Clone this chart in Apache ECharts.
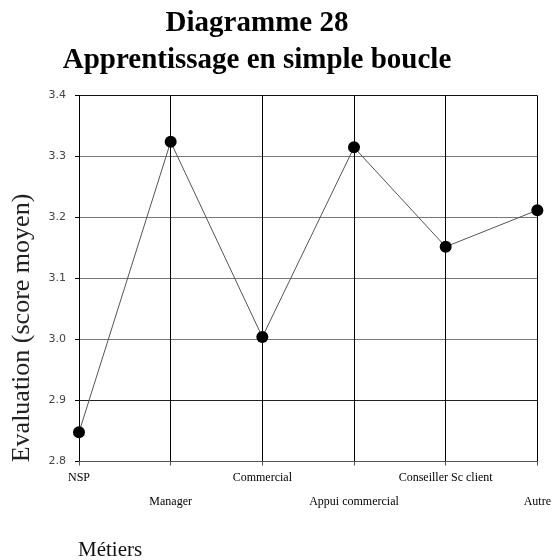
<!DOCTYPE html>
<html>
<head>
<meta charset="utf-8">
<script src="https://cdn.jsdelivr.net/npm/echarts@6/dist/echarts.min.js"></script>
<style>
  html, body { margin: 0; padding: 0; background: #fff; }
  #chart { width: 554px; height: 560px; }
</style>
</head>
<body>
<div id="chart"></div>
<script>
// Job categories on the horizontal axis
const metiers = ['NSP', 'Manager', 'Commercial', 'Appui commercial', 'Conseiller Sc client', 'Autre'];
// Average score per category
const scores = [2.848, 3.324, 3.004, 3.315, 3.152, 3.212];
// Value axis range
const yMin = 2.8;
const yMax = 3.4;
const yStep = 0.1;

const chart = echarts.init(document.getElementById('chart'), null, { renderer: 'canvas' });

chart.setOption({
  backgroundColor: '#ffffff',
  animation: false,
  title: {
    text: 'Diagramme 28\nApprentissage en simple boucle',
    left: 252,
    top: 0,
    textAlign: 'center',
    textStyle: {
      fontFamily: 'Liberation Serif',
      fontWeight: 'bold',
      fontSize: 29,
      lineHeight: 37,
      color: '#000'
    }
  },
  grid: { left: 79, right: 15, top: 95.5, bottom: 98.5, containLabel: false },
  xAxis: {
    type: 'category',
    data: metiers,
    boundaryGap: false,
    axisLine: { show: true, lineStyle: { color: '#555', width: 1 } },
    axisTick: { show: true, length: 4, lineStyle: { color: '#555' } },
    splitLine: { show: true, lineStyle: { color: '#000', width: 1 } },
    axisLabel: {
      interval: 0,
      margin: 4,
      fontFamily: 'Liberation Serif',
      fontSize: 12,
      lineHeight: 24,
      color: '#000',
      formatter: function (v, i) { return i % 2 === 1 ? '\n' + v : v; }
    }
  },
  yAxis: {
    type: 'value',
    min: yMin,
    max: yMax,
    interval: yStep,
    axisLine: { show: true, lineStyle: { color: '#000', width: 1 } },
    axisTick: { show: true, length: 4, lineStyle: { color: '#000' } },
    splitLine: {
      show: true,
      lineStyle: { color: ['#666', '#222', '#777', '#777', '#777', '#777', '#111'], width: 1 }
    },
    axisLabel: {
      margin: 13,
      fontFamily: 'DejaVu Sans',
      fontSize: 11,
      color: '#444',
      formatter: function (v) { return v.toFixed(1); }
    }
  },
  graphic: [
    {
      type: 'text',
      x: 22,
      y: 328,
      rotation: Math.PI / 2,
      style: {
        text: 'Evaluation (score moyen)',
        fontFamily: 'Liberation Serif',
        fontSize: 26,
        fill: '#222',
        textAlign: 'center',
        textVerticalAlign: 'middle'
      }
    },
    {
      type: 'text',
      x: 78,
      y: 550,
      style: {
        text: 'Métiers',
        fontFamily: 'Liberation Serif',
        fontSize: 21,
        fill: '#111',
        textAlign: 'left',
        textVerticalAlign: 'middle'
      }
    }
  ],
  series: [{
    type: 'line',
    data: scores,
    symbol: 'circle',
    symbolSize: 12,
    lineStyle: { color: '#555', width: 1 },
    itemStyle: { color: '#000' }
  }]
});
</script>
</body>
</html>
